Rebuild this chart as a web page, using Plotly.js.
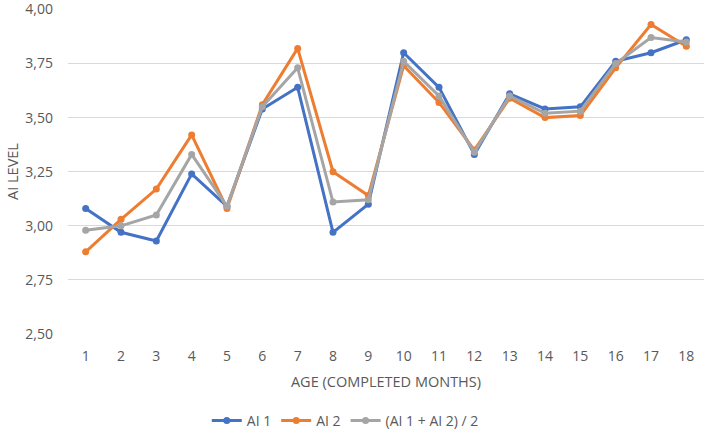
<!DOCTYPE html>
<html>
<head>
<meta charset="utf-8">
<script src="https://cdn.plot.ly/plotly-3.0.1.min.js"></script>
<style>html,body{margin:0;padding:0;background:#fff;}#chart{width:709px;height:434px;}</style>
</head>
<body>
<div id="chart"></div>
<script>
const ages = [1,2,3,4,5,6,7,8,9,10,11,12,13,14,15,16,17,18];
const ai1 = [3.08,2.97,2.93,3.24,3.09,3.54,3.64,2.97,3.10,3.80,3.64,3.33,3.61,3.54,3.55,3.76,3.80,3.86];
const ai2 = [2.88,3.03,3.17,3.42,3.08,3.56,3.82,3.25,3.14,3.74,3.57,3.35,3.59,3.50,3.51,3.73,3.93,3.83];
const avg = [2.98,3.00,3.05,3.33,3.09,3.55,3.73,3.11,3.12,3.76,3.60,3.34,3.60,3.52,3.53,3.75,3.87,3.85];
const names = ['AI 1','AI 2','(AI 1 + AI 2) / 2'];
const colors = ['#4472C4','#ED7D31','#A5A5A5'];
const yTicks = [2.5,2.75,3,3.25,3.5,3.75,4];
const yTickText = ['2,50','2,75','3,00','3,25','3,50','3,75','4,00'];

const series = [ai1, ai2, avg];
const traces = series.map((s,i)=>({
  x: ages, y: s, name: names[i], type:'scatter', mode:'lines+markers',
  line:{color:colors[i], width:3},
  marker:{color:colors[i], size:7}
}));

const font = {family:'"Open Sans", "Noto Sans", sans-serif', size:12, color:'#595959'};
const layout = {
  width:709, height:434,
  margin:{l:68, r:5, t:9, b:100},
  paper_bgcolor:'#fff', plot_bgcolor:'#fff',
  font: font,
  xaxis:{
    range:[0.5,18.5], tickvals:ages, ticktext:ages.map(String),
    showgrid:false, zeroline:false, showline:false, ticks:'',
    ticklabelstandoff:12,
    tickfont:{...font, size:14},
    title:{text:'AGE (COMPLETED MONTHS)', font:{...font, size:14.5}, standoff:12}
  },
  yaxis:{
    range:[2.5,4.002], tickvals:yTicks, ticktext:yTickText,
    gridcolor:'#D9D9D9', gridwidth:1, zeroline:false, showline:false, ticks:'',
    ticklabelstandoff:14, ticklabeloverflow:'allow',
    tickfont:{...font, size:14},
    title:{text:'AI LEVEL', font:{...font, size:14.5}, standoff:3}
  },
  legend:{orientation:'h', xref:'container', yref:'container', x:0.487, xanchor:'center', y:0.03, yanchor:'middle', font:{...font, size:14}},
  showlegend:true
};
Plotly.newPlot('chart', traces, layout, {displayModeBar:false, staticPlot:true});
</script>
</body>
</html>
